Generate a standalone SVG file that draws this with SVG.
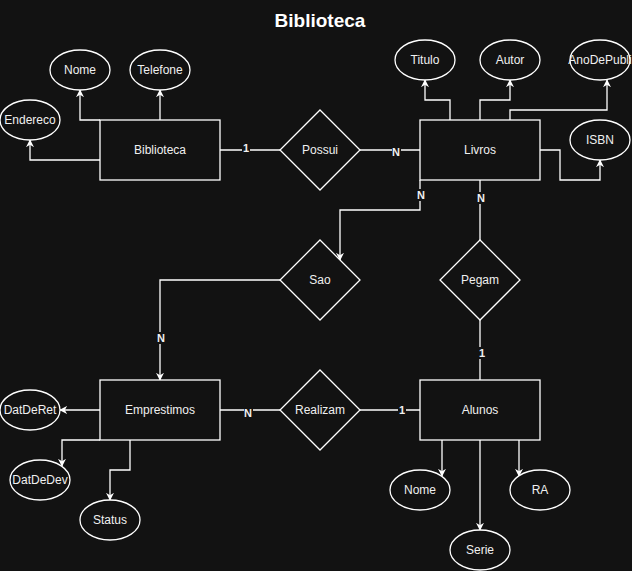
<svg xmlns="http://www.w3.org/2000/svg" width="632" height="571" viewBox="0 0 632 571">
<defs>
<marker id="arr" viewBox="0 0 10 10" refX="9" refY="5" markerWidth="8" markerHeight="8" markerUnits="userSpaceOnUse" orient="auto">
<path d="M0,0 L10,5 L0,10 L3,5 Z" fill="#ffffff"/>
</marker>
</defs>
<style>
.ent{fill:#121212;stroke:#ffffff;stroke-width:1.3}
.attr{fill:#121212;stroke:#ffffff;stroke-width:1.3}
.rel{fill:#121212;stroke:#ffffff;stroke-width:1.3}
.t{font-family:"Liberation Sans",Arial,sans-serif;font-size:12px;fill:#f0f0f0;text-anchor:middle;dominant-baseline:central}
.c{fill:none;stroke:#ffffff;stroke-width:1.3}
.a{marker-end:url(#arr)}
.lbl{font-family:"Liberation Sans",Arial,sans-serif;font-size:11px;font-weight:bold;fill:#f0f0f0;text-anchor:middle;dominant-baseline:central}
.lbg{fill:#121212}
</style>
<rect x="0" y="0" width="632" height="571" fill="#121212"/>
<text x="320" y="20" font-family="Liberation Sans,Arial,sans-serif" font-size="19" font-weight="bold" fill="#ffffff" text-anchor="middle" dominant-baseline="central">Biblioteca</text>

<g id="connectors">
<path class="c a" d="M100,120 H80 V90"/>
<path class="c a" d="M160,120 V90"/>
<path class="c a" d="M100,160 H30 V140"/>
<path class="c" d="M220,150 H280"/>
<path class="c" d="M360,150 H420"/>
<path class="c a" d="M450,120 V100 H425 V80"/>
<path class="c a" d="M480,120 V100 H510 V80"/>
<path class="c a" d="M510,120 V110 H607 V80"/>
<path class="c a" d="M540,150 H560 V180 H600 V160"/>
<path class="c a" d="M420,180 V210 H340 V260"/>
<path class="c" d="M480,180 V240"/>
<path class="c" d="M480,320 V380"/>
<path class="c a" d="M280,280 H160 V380"/>
<path class="c a" d="M100,410 H60"/>
<path class="c a" d="M100,440 H62 V466"/>
<path class="c a" d="M130,440 V470 H110 V500"/>
<path class="c" d="M220,410 H280"/>
<path class="c" d="M360,410 H420"/>
<path class="c a" d="M442,440 V476"/>
<path class="c a" d="M519,440 V476"/>
<path class="c a" d="M480,440 V530"/>
<rect class="lbg" x="242" y="142" width="8" height="12"/><text class="lbl" x="246" y="148">1</text>
<rect class="lbg" x="392" y="146" width="9" height="12"/><text class="lbl" x="396" y="152">N</text>
<rect class="lbg" x="417" y="189" width="9" height="12"/><text class="lbl" x="421" y="195">N</text>
<rect class="lbg" x="477" y="192" width="9" height="12"/><text class="lbl" x="481" y="198">N</text>
<rect class="lbg" x="478" y="347" width="8" height="12"/><text class="lbl" x="482" y="353">1</text>
<rect class="lbg" x="157" y="332" width="9" height="12"/><text class="lbl" x="161" y="338">N</text>
<rect class="lbg" x="244" y="407" width="9" height="12"/><text class="lbl" x="248" y="413">N</text>
<rect class="lbg" x="398" y="404" width="8" height="12"/><text class="lbl" x="402" y="410">1</text>
</g>

<g id="biblioteca"><rect class="ent" x="100" y="120" width="120" height="60"/><text class="t" x="160" y="150">Biblioteca</text></g>
<g id="bib-nome"><ellipse class="attr" cx="80" cy="70" rx="30" ry="20"/><text class="t" x="80" y="70">Nome</text></g>
<g id="bib-telefone"><ellipse class="attr" cx="160" cy="70" rx="30" ry="20"/><text class="t" x="160" y="70">Telefone</text></g>
<g id="bib-endereco"><ellipse class="attr" cx="30" cy="120" rx="30" ry="20"/><text class="t" x="30" y="120">Endereco</text></g>

<g id="possui"><path class="rel" d="M320,110 L360,150 L320,190 L280,150 Z"/><text class="t" x="320" y="150">Possui</text></g>

<g id="livros"><rect class="ent" x="420" y="120" width="120" height="60"/><text class="t" x="480" y="150">Livros</text></g>
<g id="liv-titulo"><ellipse class="attr" cx="425" cy="60" rx="30" ry="20"/><text class="t" x="425" y="60">Titulo</text></g>
<g id="liv-autor"><ellipse class="attr" cx="510" cy="60" rx="30" ry="20"/><text class="t" x="510" y="60">Autor</text></g>
<g id="liv-ano"><ellipse class="attr" cx="600" cy="60" rx="30" ry="20"/><text class="t" x="600" y="60">AnoDePubli</text></g>
<g id="liv-isbn"><ellipse class="attr" cx="600" cy="140" rx="30" ry="20"/><text class="t" x="600" y="140">ISBN</text></g>

<g id="sao"><path class="rel" d="M320,240 L360,280 L320,320 L280,280 Z"/><text class="t" x="320" y="280">Sao</text></g>
<g id="pegam"><path class="rel" d="M480,240 L520,280 L480,320 L440,280 Z"/><text class="t" x="480" y="280">Pegam</text></g>

<g id="emprestimos"><rect class="ent" x="100" y="380" width="120" height="60"/><text class="t" x="160" y="410">Emprestimos</text></g>
<g id="emp-datderet"><ellipse class="attr" cx="30" cy="410" rx="30" ry="20"/><text class="t" x="30" y="410">DatDeRet</text></g>
<g id="emp-datdedev"><ellipse class="attr" cx="40" cy="480" rx="30" ry="20"/><text class="t" x="40" y="480">DatDeDev</text></g>
<g id="emp-status"><ellipse class="attr" cx="110" cy="520" rx="30" ry="20"/><text class="t" x="110" y="520">Status</text></g>

<g id="realizam"><path class="rel" d="M320,370 L360,410 L320,450 L280,410 Z"/><text class="t" x="320" y="410">Realizam</text></g>

<g id="alunos"><rect class="ent" x="420" y="380" width="120" height="60"/><text class="t" x="480" y="410">Alunos</text></g>
<g id="alu-nome"><ellipse class="attr" cx="420" cy="490" rx="30" ry="20"/><text class="t" x="420" y="490">Nome</text></g>
<g id="alu-ra"><ellipse class="attr" cx="540" cy="490" rx="30" ry="20"/><text class="t" x="540" y="490">RA</text></g>
<g id="alu-serie"><ellipse class="attr" cx="480" cy="550" rx="30" ry="20"/><text class="t" x="480" y="550">Serie</text></g>
</svg>
